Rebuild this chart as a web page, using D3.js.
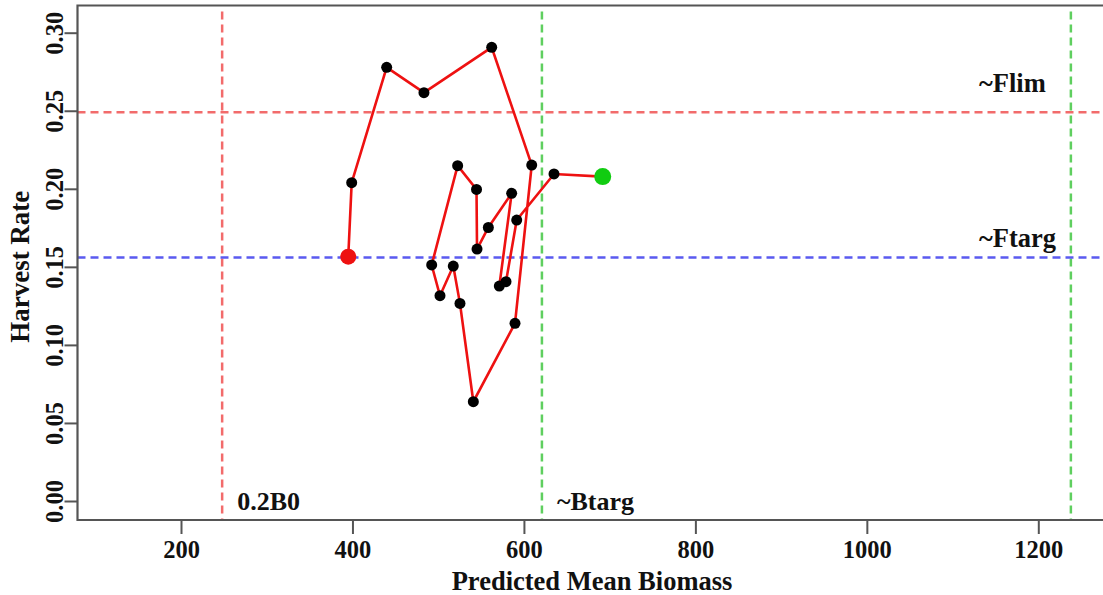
<!DOCTYPE html>
<html>
<head>
<meta charset="utf-8">
<script src="https://cdn.jsdelivr.net/npm/d3@7"></script>
<style>
  html, body { margin: 0; padding: 0; background: #fff; }
  svg { display: block; }
  text { font-family: "Liberation Serif", "Times New Roman", serif; font-weight: bold; fill: #111; }
</style>
</head>
<body>
<svg id="chart" width="1103" height="595"></svg>
<script>
// ---- data ----
const biomass = [395.1, 399.1, 439.9, 483.4, 562.4, 609.1, 589.6, 541.0, 525.4, 517.6, 502.1, 492.4,
                 522.7, 544.7, 545.3, 558.5, 585.7, 571.3, 579.1, 591.6, 635.1, 691.9];
const harvestRate = [0.1565, 0.2039, 0.2778, 0.2616, 0.2906, 0.2152, 0.1138, 0.0636, 0.1266, 0.1505, 0.1315, 0.1512,
                     0.2148, 0.1996, 0.1614, 0.1752, 0.1971, 0.1377, 0.1405, 0.1800, 0.2095, 0.2078];
const xTicks = [200, 400, 600, 800, 1000, 1200];
const yTicks = [0.00, 0.05, 0.10, 0.15, 0.20, 0.25, 0.30];
const refBiomass = [248, 621, 1238];          // 0.2B0, ~Btarg, ~B0
const refBiomassLabels = ["0.2B0", "~Btarg", ""];
const refRate = [0.249, 0.156];                // ~Flim, ~Ftarg
const refRateLabels = ["~Flim", "~Ftarg"];
const xTitle = "Predicted Mean Biomass";
const yTitle = "Harvest Rate";

(function () {
// ---- layout ----
const svg = d3.select("#chart");
const pLeft = 77.5, pTop = 5.5, pBottom = 520, pRight = 1103;
const x = d3.scaleLinear().domain([200, 1200]).range([181, 1038.3]);
const y = d3.scaleLinear().domain([0, 0.30]).range([501, 32.7]);

const axisColor = "#555";

// reference lines
const vCols = ["#f26b6b", "#5fcf5f", "#5fcf5f"];
svg.selectAll("line.vref").data(refBiomass).join("line")
  .attr("class", "vref")
  .attr("x1", d => x(d)).attr("x2", d => x(d))
  .attr("y1", pTop + 6).attr("y2", pBottom)
  .attr("stroke", (d, i) => vCols[i]).attr("stroke-width", 2.5)
  .attr("stroke-dasharray", "8,5");

const hCols = ["#f26b6b", "#5a5af0"];
svg.selectAll("line.href").data(refRate).join("line")
  .attr("class", "href")
  .attr("x1", pLeft).attr("x2", pRight)
  .attr("y1", d => y(d)).attr("y2", d => y(d))
  .attr("stroke", (d, i) => hCols[i]).attr("stroke-width", 2.5)
  .attr("stroke-dasharray", "8,5");

// frame (top, left, bottom)
svg.append("path")
  .attr("d", `M${pRight},${pTop}H${pLeft}V${pBottom}H${pRight}`)
  .attr("fill", "none").attr("stroke", axisColor).attr("stroke-width", 2.2);

// axes
const xAxis = d3.axisBottom(x).tickValues(xTicks).tickSize(14).tickPadding(6).tickFormat(d3.format("d"));
const gx = svg.append("g").attr("transform", `translate(0,${pBottom})`).call(xAxis);
gx.select(".domain").remove();
gx.selectAll(".tick line").attr("stroke", axisColor).attr("stroke-width", 2);
gx.selectAll(".tick text").attr("font-size", 24.5).attr("fill", "#111")
  .attr("font-family", "Liberation Serif").attr("font-weight", "bold")
  .attr("dy", null).attr("y", 38);

const yAxis = d3.axisLeft(y).tickValues(yTicks).tickSize(13).tickFormat(d3.format(".2f"));
const gy = svg.append("g").attr("transform", `translate(${pLeft},0)`).call(yAxis);
gy.select(".domain").remove();
gy.selectAll(".tick line").attr("stroke", axisColor).attr("stroke-width", 2);
gy.selectAll(".tick text")
  .attr("font-size", 24.5).attr("fill", "#111")
  .attr("font-family", "Liberation Serif").attr("font-weight", "bold")
  .attr("x", null).attr("dy", null)
  .attr("text-anchor", "middle")
  .attr("transform", "translate(-15,0) rotate(-90)");

// titles
svg.append("text").attr("x", 592).attr("y", 590).attr("text-anchor", "middle")
  .attr("font-size", 26.5).text(xTitle);
svg.append("text").attr("transform", `translate(29,${(pTop + pBottom) / 2 + 4}) rotate(-90)`)
  .attr("text-anchor", "middle").attr("font-size", 27).text(yTitle);

// reference labels
svg.selectAll("text.vlab").data(refBiomass.filter((d, i) => refBiomassLabels[i])).join("text")
  .attr("class", "vlab")
  .attr("x", d => x(d) + 15).attr("y", 510)
  .attr("font-size", 26)
  .text((d, i) => refBiomassLabels[i]);
const hOff = [-20, -10];
svg.selectAll("text.hlab").data(refRate).join("text")
  .attr("class", "hlab")
  .attr("x", 979).attr("y", (d, i) => y(d) + hOff[i])
  .attr("font-size", 26.5)
  .text((d, i) => refRateLabels[i]);

// trajectory
const pts = biomass.map((b, i) => [b, harvestRate[i]]);
svg.append("path").datum(pts)
  .attr("d", d3.line().x(d => x(d[0])).y(d => y(d[1])))
  .attr("fill", "none").attr("stroke", "#ee1111").attr("stroke-width", 2.6);

svg.selectAll("circle.pt").data(pts.slice(1, -1)).join("circle")
  .attr("class", "pt")
  .attr("cx", d => x(d[0])).attr("cy", d => y(d[1])).attr("r", 5.5)
  .attr("fill", "#000");

svg.append("circle").datum(pts[0])
  .attr("cx", d => x(d[0])).attr("cy", d => y(d[1])).attr("r", 8)
  .attr("fill", "#ee1111");
svg.append("circle").datum(pts[pts.length - 1])
  .attr("cx", d => x(d[0])).attr("cy", d => y(d[1])).attr("r", 8.5)
  .attr("fill", "#11cc11");
})();
</script>
</body>
</html>
